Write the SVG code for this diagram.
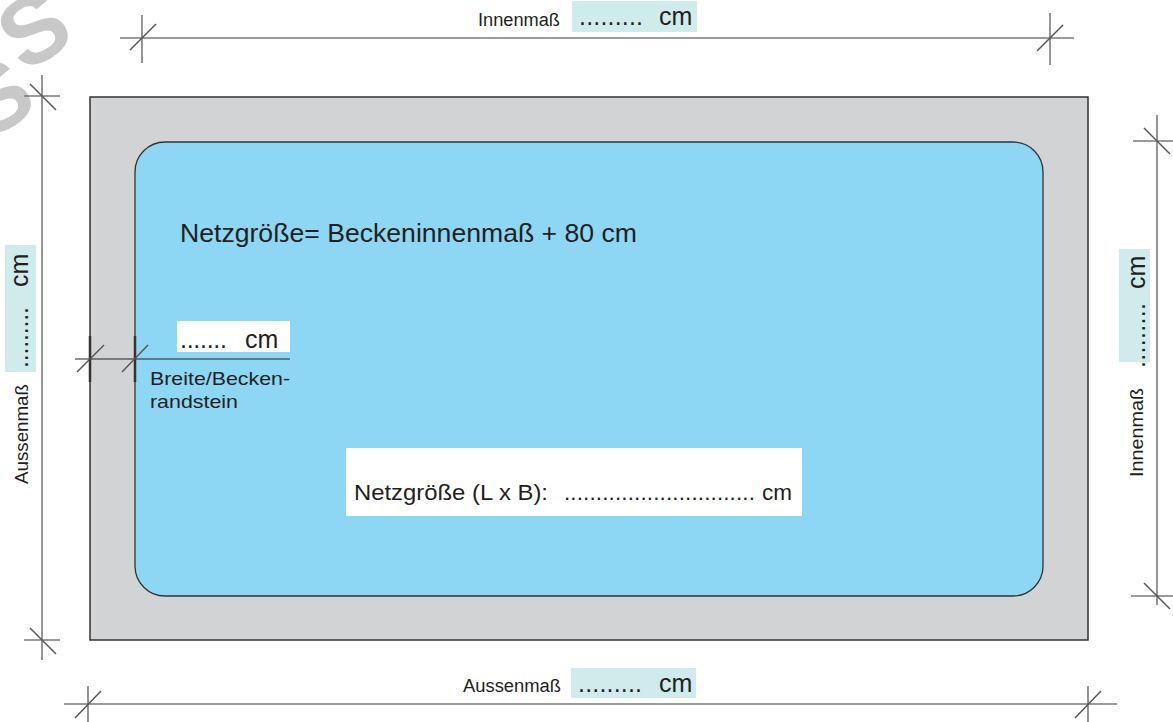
<svg xmlns="http://www.w3.org/2000/svg" width="1173" height="722" viewBox="0 0 1173 722">
<style>
text{font-family:"Liberation Sans",Arial,sans-serif;fill:#231f20}
.dim{stroke:#7a7a7a;stroke-width:1.6;fill:none}
.tick{stroke:#555;stroke-width:1.4;fill:none}
.lbl{font-size:18px}
.val{font-size:25px}
.box{fill:#d0ebec}
.wm{font-size:95px;font-weight:bold;fill:#c8c8c8}
</style>
<rect width="1173" height="722" fill="#fff"/>
<g id="watermark">
<text class="wm" x="0" y="34" text-anchor="middle" transform="translate(33,28) rotate(-32)">S</text>
<text class="wm" x="0" y="34" text-anchor="middle" transform="translate(-4,96) rotate(-32)">S</text>
</g>
<g id="outer">
<rect x="90" y="97" width="998" height="543" fill="#d1d3d4" stroke="#333" stroke-width="1.5"/>
</g>
<g id="inner">
<rect x="135" y="142" width="908" height="454" rx="30" ry="30" fill="#8dd7f5" stroke="#333" stroke-width="1.3"/>
<text x="180" y="242" font-size="25" textLength="457" lengthAdjust="spacingAndGlyphs">Netzgröße= Beckeninnenmaß + 80 cm</text>
</g>
<g id="netzbox">
<rect x="346" y="448" width="456" height="68" fill="#fff"/>
<text x="354" y="500" font-size="22.5" textLength="194" lengthAdjust="spacingAndGlyphs">Netzgröße (L x B):</text>
<text x="564" y="500" font-size="22.5" textLength="191" lengthAdjust="spacing">..............................</text>
<text x="762" y="500" font-size="22.5">cm</text>
</g>
<g id="connectors">
<line class="dim" x1="120" y1="38" x2="1074" y2="38"/>
<line class="dim" x1="142" y1="15" x2="142" y2="63"/>
<line class="tick" x1="130" y1="50" x2="156" y2="24"/>
<line class="dim" x1="1050" y1="13" x2="1050" y2="65"/>
<line class="tick" x1="1037" y1="51" x2="1063" y2="25"/>
<line class="dim" x1="42" y1="75" x2="42" y2="660"/>
<line class="dim" x1="24" y1="96" x2="60" y2="96"/>
<line class="tick" x1="30" y1="84" x2="56" y2="110"/>
<line class="dim" x1="24" y1="640" x2="60" y2="640"/>
<line class="tick" x1="30" y1="628" x2="56" y2="654"/>
<line class="dim" x1="1157" y1="115" x2="1157" y2="605"/>
<line class="dim" x1="1133" y1="141" x2="1173" y2="141"/>
<line class="tick" x1="1144" y1="128" x2="1170" y2="154"/>
<line class="dim" x1="1131" y1="596" x2="1173" y2="596"/>
<line class="tick" x1="1144" y1="583" x2="1170" y2="609"/>
<line class="dim" x1="64" y1="704" x2="1117" y2="704"/>
<line class="dim" x1="88" y1="686" x2="88" y2="722"/>
<line class="tick" x1="75" y1="718" x2="101" y2="691"/>
<line class="dim" x1="1088" y1="686" x2="1088" y2="722"/>
<line class="tick" x1="1075" y1="718" x2="1101" y2="691"/>
<line x1="75" y1="359" x2="290" y2="359" stroke="#222" stroke-width="1.2"/>
<line x1="90" y1="336" x2="90" y2="382" stroke="#333" stroke-width="2.5"/>
<line x1="135" y1="336" x2="135" y2="382" stroke="#333" stroke-width="2.5"/>
<line class="tick" x1="77" y1="372" x2="104" y2="345"/>
<line class="tick" x1="122" y1="372" x2="148" y2="345"/>
</g>
<g id="label-top">
<text class="lbl" x="478" y="26" textLength="82" lengthAdjust="spacingAndGlyphs">Innenmaß</text>
<rect class="box" x="572" y="1" width="125" height="31"/>
<text class="val" x="579" y="25" textLength="64" lengthAdjust="spacing">.........</text>
<text class="val" x="659" y="25">cm</text>
</g>
<g id="label-bottom">
<text class="lbl" x="463" y="692" textLength="98" lengthAdjust="spacingAndGlyphs">Aussenmaß</text>
<rect class="box" x="571" y="668" width="125" height="30"/>
<text class="val" x="578" y="692" textLength="64" lengthAdjust="spacing">.........</text>
<text class="val" x="659" y="692">cm</text>
</g>
<g id="label-left">
<g transform="translate(28,484) rotate(-90)">
<text class="lbl" x="0" y="0" textLength="100" lengthAdjust="spacingAndGlyphs">Aussenmaß</text>
</g>
<rect class="box" x="5" y="245" width="31" height="127"/>
<g transform="translate(28,0) rotate(-90)">
<text class="val" x="-368" y="0" textLength="61" lengthAdjust="spacing">.........</text>
<text class="val" x="-287" y="0">cm</text>
</g>
</g>
<g id="label-right">
<g transform="translate(1143,477) rotate(-90)">
<text class="lbl" x="0" y="0" textLength="89" lengthAdjust="spacingAndGlyphs">Innenmaß</text>
</g>
<rect class="box" x="1119" y="249" width="31" height="113"/>
<g transform="translate(1145,0) rotate(-90)">
<text class="val" x="-368" y="0" textLength="65" lengthAdjust="spacing">.........</text>
<text class="val" x="-289" y="0">cm</text>
</g>
</g>
<g id="breite">
<rect x="177" y="321" width="113" height="31" fill="#fff"/>
<text class="val" x="180" y="348" textLength="47" lengthAdjust="spacing">.......</text>
<text class="val" x="245" y="348">cm</text>
<text x="150" y="385" font-size="19" textLength="140" lengthAdjust="spacingAndGlyphs">Breite/Becken-</text>
<text x="150" y="408" font-size="19" textLength="88" lengthAdjust="spacingAndGlyphs">randstein</text>
</g>
</svg>
